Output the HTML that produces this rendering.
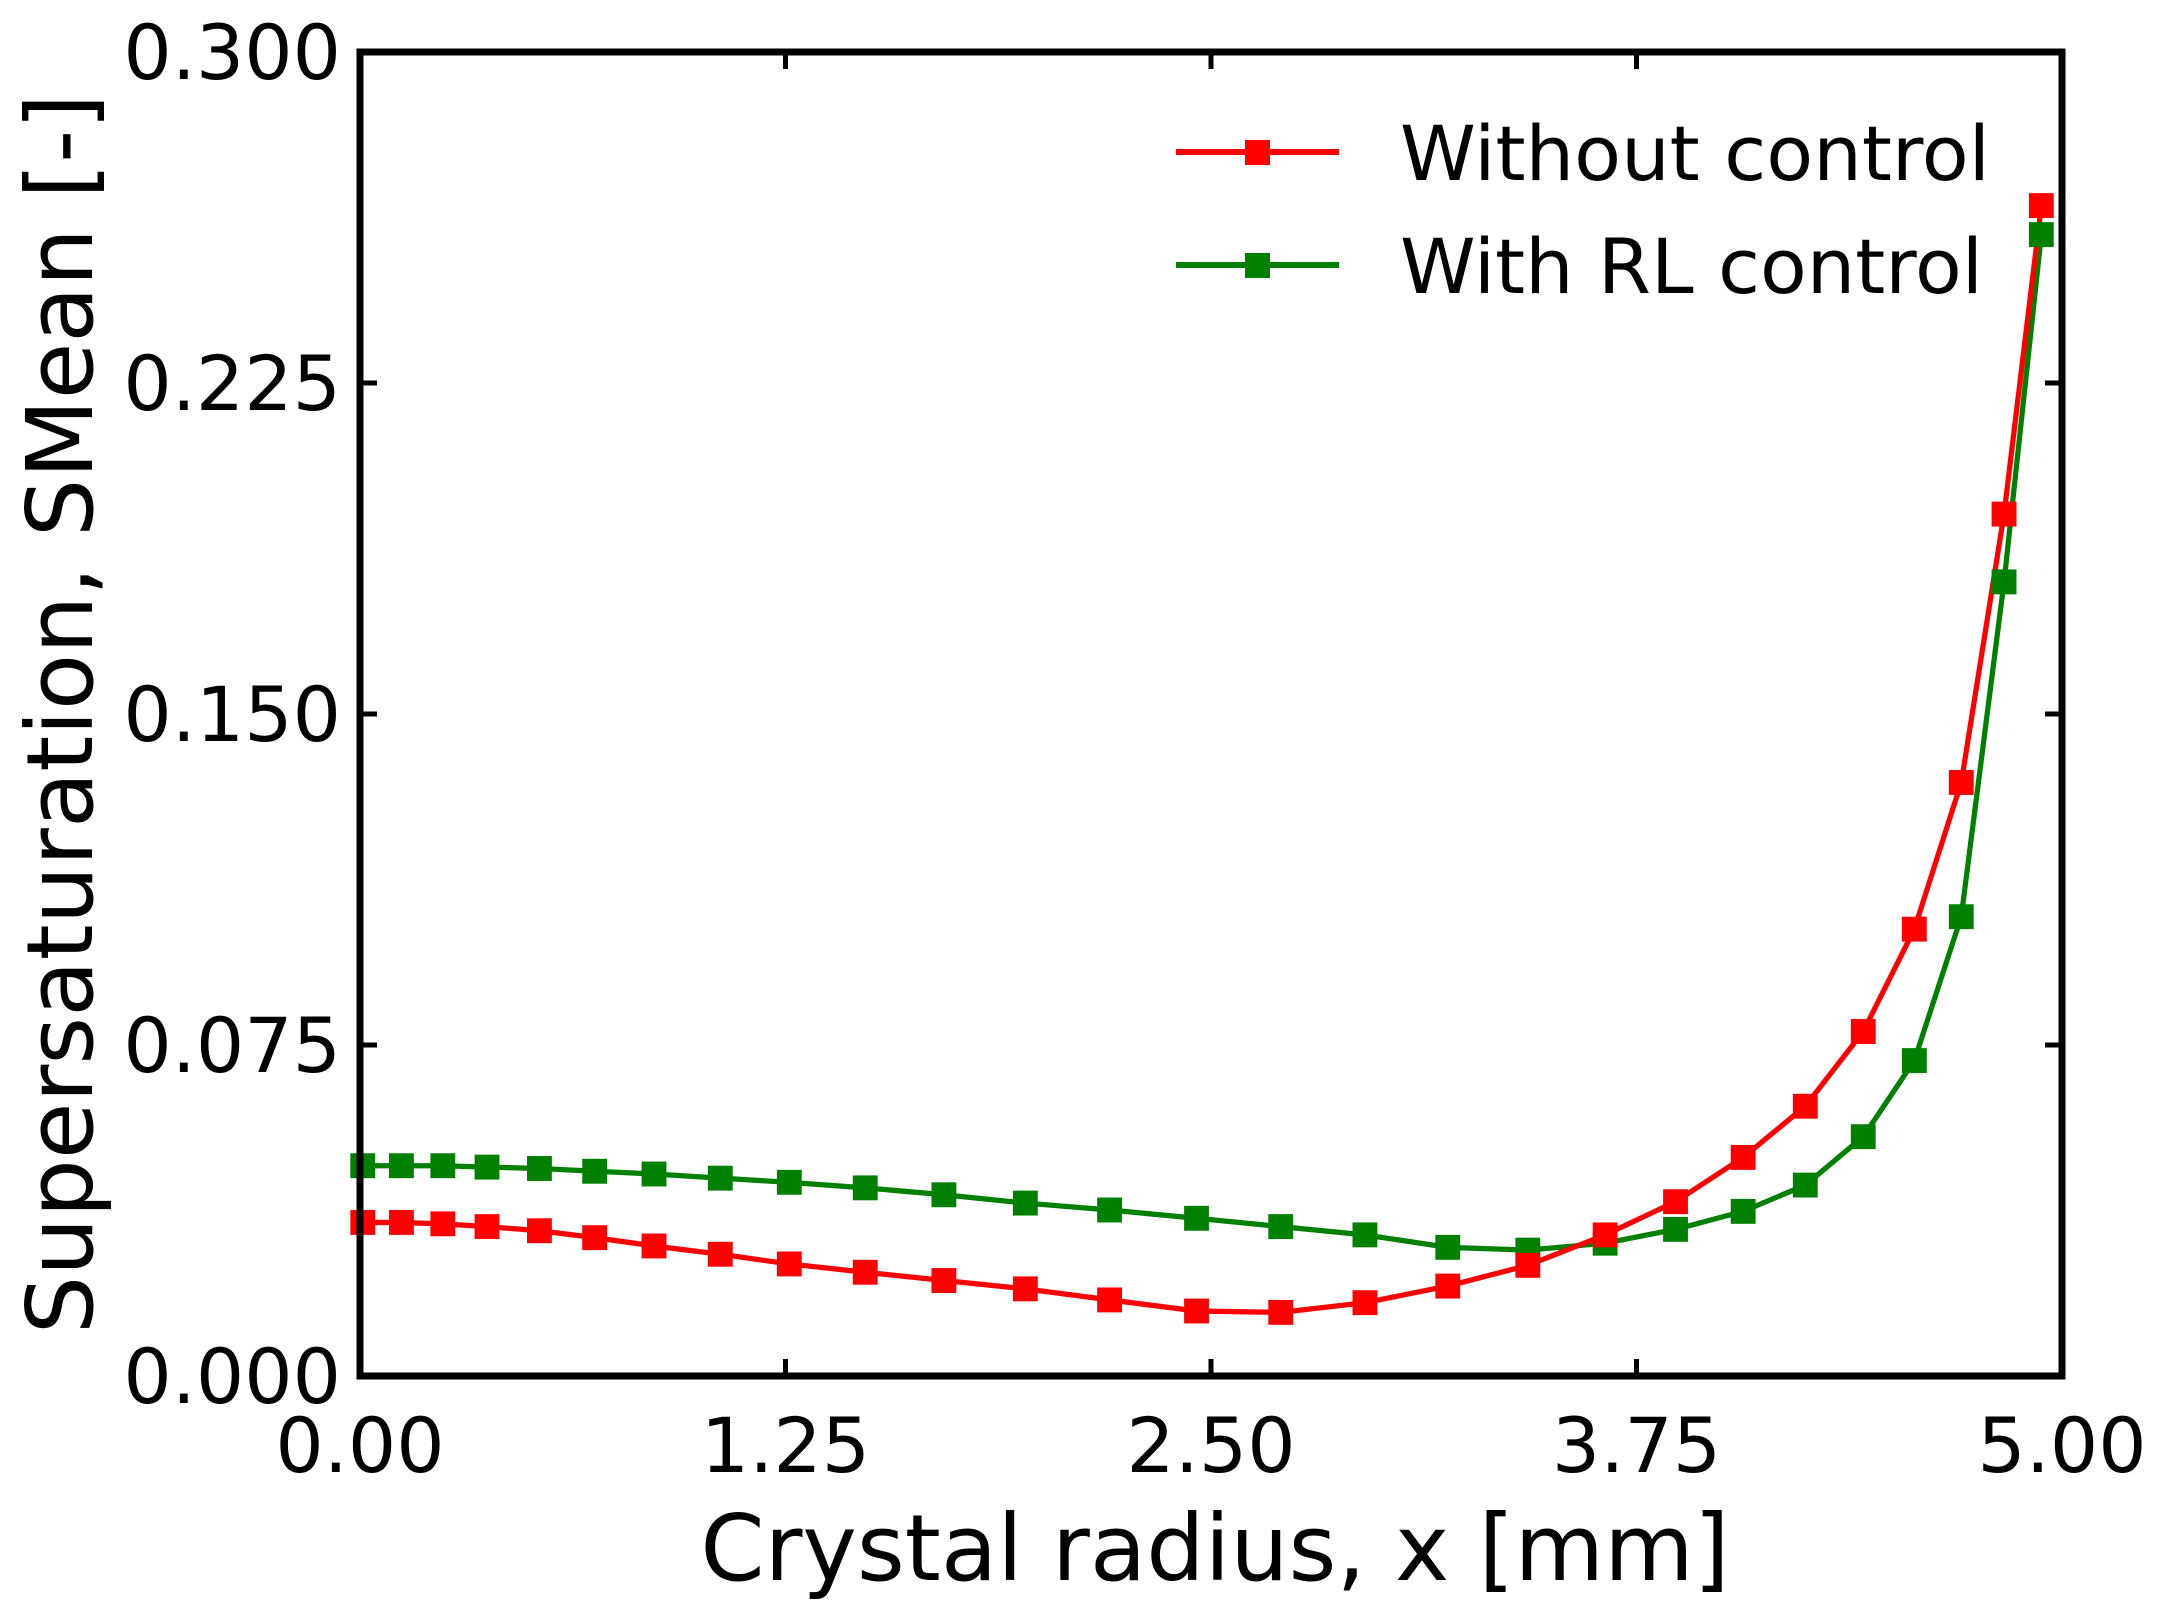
<!DOCTYPE html>
<html><head><style>body{margin:0;background:#fff}svg{display:block}</style></head><body>
<svg width="2166" height="1623" xmlns="http://www.w3.org/2000/svg" font-family="DejaVu Sans, Liberation Sans, sans-serif">
<g transform="translate(360,52) scale(1.3804,1.3835) translate(-260,-38)">
<g fill="none" stroke-width="3.8" stroke-linejoin="round">
<polyline stroke="#008000" points="262,843 290,843 320,843 352,844 390,845 430,847 473,849 521,852 571,855 626,859 683,864 742,870 803,875 866,881 927,887 988,893 1048,902 1106,904 1162,899 1213,889 1262,876 1307,857 1349,822 1386,767 1420,663 1451,421 1478,170"/>
<polyline stroke="#ff0000" points="262,884 290,884 320,885 352,887 390,890 430,895 473,901 521,907 571,914 626,920 683,926 742,932 803,940 866,948 927,949 988,942 1048,930 1106,915 1162,893 1213,869 1262,837 1307,800 1349,746 1386,672 1420,566 1451,372 1478,149"/>
</g>
<g fill="#008000">
<rect x="253" y="834" width="18" height="18"/><rect x="281" y="834" width="18" height="18"/><rect x="311" y="834" width="18" height="18"/><rect x="343" y="835" width="18" height="18"/><rect x="381" y="836" width="18" height="18"/><rect x="421" y="838" width="18" height="18"/><rect x="464" y="840" width="18" height="18"/><rect x="512" y="843" width="18" height="18"/><rect x="562" y="846" width="18" height="18"/><rect x="617" y="850" width="18" height="18"/><rect x="674" y="855" width="18" height="18"/><rect x="733" y="861" width="18" height="18"/><rect x="794" y="866" width="18" height="18"/><rect x="857" y="872" width="18" height="18"/><rect x="918" y="878" width="18" height="18"/><rect x="979" y="884" width="18" height="18"/><rect x="1039" y="893" width="18" height="18"/><rect x="1097" y="895" width="18" height="18"/><rect x="1153" y="890" width="18" height="18"/><rect x="1204" y="880" width="18" height="18"/><rect x="1253" y="867" width="18" height="18"/><rect x="1298" y="848" width="18" height="18"/><rect x="1340" y="813" width="18" height="18"/><rect x="1377" y="758" width="18" height="18"/><rect x="1411" y="654" width="18" height="18"/><rect x="1442" y="412" width="18" height="18"/><rect x="1469" y="161" width="18" height="18"/>
</g>
<g fill="#ff0000">
<rect x="253" y="875" width="18" height="18"/><rect x="281" y="875" width="18" height="18"/><rect x="311" y="876" width="18" height="18"/><rect x="343" y="878" width="18" height="18"/><rect x="381" y="881" width="18" height="18"/><rect x="421" y="886" width="18" height="18"/><rect x="464" y="892" width="18" height="18"/><rect x="512" y="898" width="18" height="18"/><rect x="562" y="905" width="18" height="18"/><rect x="617" y="911" width="18" height="18"/><rect x="674" y="917" width="18" height="18"/><rect x="733" y="923" width="18" height="18"/><rect x="794" y="931" width="18" height="18"/><rect x="857" y="939" width="18" height="18"/><rect x="918" y="940" width="18" height="18"/><rect x="979" y="933" width="18" height="18"/><rect x="1039" y="921" width="18" height="18"/><rect x="1097" y="906" width="18" height="18"/><rect x="1153" y="884" width="18" height="18"/><rect x="1204" y="860" width="18" height="18"/><rect x="1253" y="828" width="18" height="18"/><rect x="1298" y="791" width="18" height="18"/><rect x="1340" y="737" width="18" height="18"/><rect x="1377" y="663" width="18" height="18"/><rect x="1411" y="557" width="18" height="18"/><rect x="1442" y="363" width="18" height="18"/><rect x="1469" y="140" width="18" height="18"/>
</g>
</g>
<rect x="360" y="52" width="1702" height="1324" fill="none" stroke="#000" stroke-width="7"/>
<g stroke="#000" stroke-width="5">
<line x1="785.5" y1="1376" x2="785.5" y2="1359"/><line x1="1211" y1="1376" x2="1211" y2="1359"/><line x1="1636.5" y1="1376" x2="1636.5" y2="1359"/>
<line x1="785.5" y1="52" x2="785.5" y2="69"/><line x1="1211" y1="52" x2="1211" y2="69"/><line x1="1636.5" y1="52" x2="1636.5" y2="69"/>
<line x1="360" y1="1045" x2="377" y2="1045"/><line x1="360" y1="714" x2="377" y2="714"/><line x1="360" y1="383" x2="377" y2="383"/>
<line x1="2062" y1="1045" x2="2045" y2="1045"/><line x1="2062" y1="714" x2="2045" y2="714"/><line x1="2062" y1="383" x2="2045" y2="383"/>
</g>
<g font-size="76" fill="#000">
<g text-anchor="middle">
<text x="360" y="1472">0.00</text><text x="785.5" y="1472">1.25</text><text x="1211" y="1472">2.50</text><text x="1636.5" y="1472">3.75</text><text x="2062" y="1472">5.00</text>
</g>
<g text-anchor="end">
<text x="341" y="1403">0.000</text><text x="341" y="1072">0.075</text><text x="341" y="741">0.150</text><text x="341" y="410">0.225</text><text x="341" y="79">0.300</text>
</g>
<text x="1400" y="180" textLength="590" lengthAdjust="spacingAndGlyphs">Without control</text>
<text x="1400" y="293" textLength="583" lengthAdjust="spacingAndGlyphs">With RL control</text>
</g>
<g stroke-width="6"><line x1="1176" y1="152" x2="1339" y2="152" stroke="#ff0000"/><line x1="1176" y1="265" x2="1339" y2="265" stroke="#008000"/></g>
<rect x="1245" y="140" width="25" height="25" fill="#ff0000"/><rect x="1245" y="253" width="25" height="25" fill="#008000"/>
<text x="1215" y="1580" font-size="92" text-anchor="middle">Crystal radius, x [mm]</text>
<text transform="translate(92,714) rotate(-90)" font-size="92" text-anchor="middle">Supersaturation, SMean [-]</text>
</svg>
</body></html>
